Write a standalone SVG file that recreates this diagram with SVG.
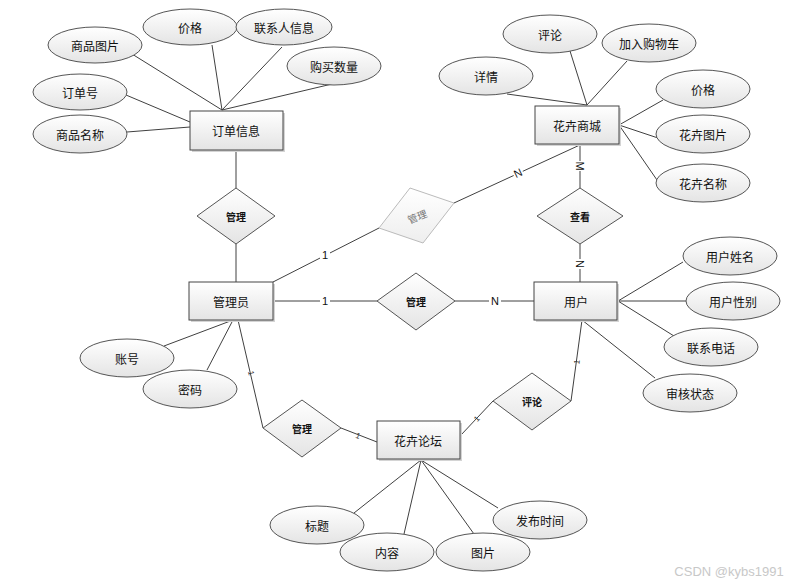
<svg xmlns="http://www.w3.org/2000/svg" width="805" height="586" viewBox="0 0 805 586">
<defs>
<linearGradient id="g" x1="0" y1="0" x2="0" y2="1">
<stop offset="0" stop-color="#ffffff"/>
<stop offset="1" stop-color="#e4e4e4"/>
</linearGradient>
<linearGradient id="g2" x1="0" y1="0" x2="0" y2="1">
<stop offset="0" stop-color="#ffffff"/>
<stop offset="1" stop-color="#eeeeee"/>
</linearGradient>
<style>
.e{fill:url(#g);stroke:#555;stroke-width:1}
.r{fill:url(#g);stroke:#444;stroke-width:1}
.sh{fill:#d4d4d4}
.d{fill:url(#g);stroke:#555;stroke-width:1}
.l{stroke:#404040;stroke-width:1;fill:none}
.t{font-family:"Noto Sans CJK SC","Noto Sans",sans-serif;font-size:12px;fill:#111;text-anchor:middle;dominant-baseline:central}
.dt{font-family:"Noto Sans CJK SC","Noto Sans",sans-serif;font-size:10px;font-weight:bold;fill:#111;text-anchor:middle;dominant-baseline:central}
.c{font-family:"Liberation Sans",Arial,sans-serif;font-size:11px;fill:#111;text-anchor:middle;dominant-baseline:central}
.tk{font-family:"Liberation Sans",Arial,sans-serif;font-size:8px;fill:#333;text-anchor:middle;dominant-baseline:central}
</style>
</defs>
<rect width="805" height="586" fill="#ffffff"/>

<g id="connectors">
<!-- 订单信息 attributes -->
<line class="l" x1="132" y1="54" x2="222" y2="110"/>
<line class="l" x1="212" y1="45" x2="222" y2="110"/>
<line class="l" x1="282" y1="47" x2="222" y2="110"/>
<line class="l" x1="332" y1="84" x2="222" y2="110"/>
<line class="l" x1="126" y1="95" x2="190" y2="122"/>
<line class="l" x1="127" y1="132" x2="190" y2="127"/>
<!-- 花卉商城 attributes -->
<line class="l" x1="507" y1="94" x2="587" y2="105"/>
<line class="l" x1="570" y1="51" x2="587" y2="105"/>
<line class="l" x1="627" y1="61" x2="587" y2="105"/>
<line class="l" x1="663" y1="100" x2="619" y2="125"/>
<line class="l" x1="658" y1="138" x2="619" y2="125"/>
<line class="l" x1="657" y1="180" x2="619" y2="125"/>
<!-- relations -->
<line class="l" x1="236" y1="150" x2="236" y2="188"/>
<line class="l" x1="236" y1="244" x2="236" y2="282"/>
<line class="l" x1="273" y1="282" x2="379" y2="228"/>
<line class="l" x1="454" y1="203" x2="582" y2="144"/>
<line class="l" x1="580" y1="144" x2="580" y2="188"/>
<line class="l" x1="580" y1="244" x2="580" y2="282"/>
<line class="l" x1="273" y1="301" x2="377" y2="301"/>
<line class="l" x1="455" y1="301" x2="534" y2="301"/>
<line class="l" x1="238" y1="320" x2="263" y2="428"/>
<line class="l" x1="341" y1="428" x2="377" y2="442"/>
<line class="l" x1="461" y1="435" x2="493" y2="401"/>
<line class="l" x1="571" y1="401" x2="582" y2="320"/>
<!-- 管理员 attributes -->
<line class="l" x1="233" y1="320" x2="164" y2="346"/>
<line class="l" x1="233" y1="320" x2="207" y2="370"/>
<!-- 用户 attributes -->
<line class="l" x1="618" y1="301" x2="683" y2="262"/>
<line class="l" x1="618" y1="301" x2="686" y2="301"/>
<line class="l" x1="618" y1="301" x2="674" y2="336"/>
<line class="l" x1="582" y1="320" x2="655" y2="378"/>
<!-- 花卉论坛 attributes -->
<line class="l" x1="421" y1="460" x2="354" y2="513"/>
<line class="l" x1="421" y1="460" x2="404" y2="534"/>
<line class="l" x1="421" y1="460" x2="474" y2="534"/>
<line class="l" x1="421" y1="460" x2="498" y2="508"/>
<!-- cardinality labels -->
<rect x="320" y="249" width="10" height="12" fill="#fff"/>
<text class="c" x="325" y="255">1</text>
<rect x="513" y="167" width="10" height="12" fill="#fff" transform="rotate(-25 518 173)"/>
<text class="c" x="518" y="173" transform="rotate(-25 518 173)">N</text>
<rect x="574" y="161" width="12" height="10" fill="#fff"/>
<text class="c" x="580" y="166" transform="rotate(90 580 166)">M</text>
<rect x="574" y="259" width="12" height="10" fill="#fff"/>
<text class="c" x="580" y="264" transform="rotate(90 580 264)">N</text>
<rect x="320" y="295" width="10" height="12" fill="#fff"/>
<text class="c" x="325" y="301">1</text>
<rect x="489" y="295" width="12" height="12" fill="#fff"/>
<text class="c" x="495" y="301">N</text>
<text class="tk" x="251" y="373" transform="rotate(77 251 373)">1</text>
<text class="tk" x="358" y="436" transform="rotate(21 358 436)">1</text>
<text class="tk" x="477" y="419" transform="rotate(-47 477 419)">1</text>
<text class="tk" x="577" y="362" transform="rotate(-82 577 362)">1</text>
</g>

<g id="order">
<rect class="sh" x="192" y="113" width="93" height="39"/>
<rect class="r" x="190" y="111" width="93" height="39"/>
<text class="t" x="236" y="130">订单信息</text>
</g>
<g id="mall">
<rect class="sh" x="537" y="108" width="84" height="38"/>
<rect class="r" x="535" y="106" width="84" height="38"/>
<text class="t" x="577" y="125">花卉商城</text>
</g>
<g id="admin">
<rect class="sh" x="191" y="284" width="84" height="38"/>
<rect class="r" x="189" y="282" width="84" height="38"/>
<text class="t" x="231" y="301">管理员</text>
</g>
<g id="user">
<rect class="sh" x="536" y="284" width="83" height="38"/>
<rect class="r" x="534" y="282" width="83" height="38"/>
<text class="t" x="576" y="301">用户</text>
</g>
<g id="forum">
<rect class="sh" x="379" y="423" width="83" height="38"/>
<rect class="r" x="377" y="421" width="83" height="38"/>
<text class="t" x="418" y="440">花卉论坛</text>
</g>

<g id="attr-order-img"><ellipse class="e" cx="95" cy="45" rx="47" ry="18"/><text class="t" x="95" y="45">商品图片</text></g>
<g id="attr-order-price"><ellipse class="e" cx="190" cy="27" rx="47" ry="18"/><text class="t" x="190" y="27">价格</text></g>
<g id="attr-order-contact"><ellipse class="e" cx="284" cy="27" rx="48" ry="18"/><text class="t" x="284" y="27">联系人信息</text></g>
<g id="attr-order-qty"><ellipse class="e" cx="334" cy="66" rx="47" ry="19"/><text class="t" x="334" y="66">购买数量</text></g>
<g id="attr-order-no"><ellipse class="e" cx="80" cy="92" rx="47" ry="18"/><text class="t" x="80" y="92">订单号</text></g>
<g id="attr-order-name"><ellipse class="e" cx="80" cy="134" rx="47" ry="19"/><text class="t" x="80" y="134">商品名称</text></g>

<g id="attr-mall-comment"><ellipse class="e" cx="550" cy="34" rx="47" ry="19"/><text class="t" x="550" y="34">评论</text></g>
<g id="attr-mall-cart"><ellipse class="e" cx="649" cy="43" rx="47" ry="19"/><text class="t" x="649" y="43">加入购物车</text></g>
<g id="attr-mall-detail"><ellipse class="e" cx="486" cy="76" rx="47" ry="19"/><text class="t" x="486" y="76">详情</text></g>
<g id="attr-mall-price"><ellipse class="e" cx="703" cy="89" rx="47" ry="19"/><text class="t" x="703" y="89">价格</text></g>
<g id="attr-mall-img"><ellipse class="e" cx="703" cy="134" rx="47" ry="19"/><text class="t" x="703" y="134">花卉图片</text></g>
<g id="attr-mall-name"><ellipse class="e" cx="703" cy="183" rx="47" ry="19"/><text class="t" x="703" y="183">花卉名称</text></g>

<g id="attr-admin-acc"><ellipse class="e" cx="127" cy="358" rx="47" ry="19"/><text class="t" x="127" y="358">账号</text></g>
<g id="attr-admin-pwd"><ellipse class="e" cx="190" cy="389" rx="47" ry="19"/><text class="t" x="190" y="389">密码</text></g>

<g id="attr-user-name"><ellipse class="e" cx="730" cy="256" rx="47" ry="19"/><text class="t" x="730" y="256">用户姓名</text></g>
<g id="attr-user-sex"><ellipse class="e" cx="733" cy="301" rx="47" ry="19"/><text class="t" x="733" y="301">用户性别</text></g>
<g id="attr-user-tel"><ellipse class="e" cx="711" cy="347" rx="47" ry="19"/><text class="t" x="711" y="347">联系电话</text></g>
<g id="attr-user-status"><ellipse class="e" cx="690" cy="393" rx="47" ry="19"/><text class="t" x="690" y="393">审核状态</text></g>

<g id="attr-forum-title"><ellipse class="e" cx="317" cy="525" rx="47" ry="19"/><text class="t" x="317" y="525">标题</text></g>
<g id="attr-forum-content"><ellipse class="e" cx="387" cy="552" rx="47" ry="19"/><text class="t" x="387" y="552">内容</text></g>
<g id="attr-forum-img"><ellipse class="e" cx="483" cy="552" rx="47" ry="19"/><text class="t" x="483" y="552">图片</text></g>
<g id="attr-forum-time"><ellipse class="e" cx="540" cy="520" rx="47" ry="19"/><text class="t" x="540" y="520">发布时间</text></g>

<g id="rel-manage-order"><polygon class="d" points="236,188 275,216 236,244 197,216"/><text class="dt" x="236" y="216">管理</text></g>
<g id="rel-manage-mall"><polygon points="410,188 454,203 423,243 379,228" fill="url(#g2)" stroke="#bbbbbb"/><text class="dt" x="417" y="216" transform="rotate(-22 417 216)" style="fill:#777;font-weight:normal">管理</text></g>
<g id="rel-view"><polygon class="d" points="580,188 623,216 580,244 537,216"/><text class="dt" x="580" y="216">查看</text></g>
<g id="rel-manage-user"><polygon class="d" points="416,273 455,301 416,330 377,301"/><text class="dt" x="416" y="301">管理</text></g>
<g id="rel-manage-forum"><polygon class="d" points="302,400 341,428 302,457 263,428"/><text class="dt" x="302" y="428">管理</text></g>
<g id="rel-comment"><polygon class="d" points="532,373 571,401 532,430 493,401"/><text class="dt" x="532" y="401">评论</text></g>

<text x="729" y="571" style="font-family:'Liberation Sans',Arial,sans-serif;font-size:13px;fill:#c8c8c8;text-anchor:middle;dominant-baseline:central">CSDN @kybs1991</text>
</svg>
